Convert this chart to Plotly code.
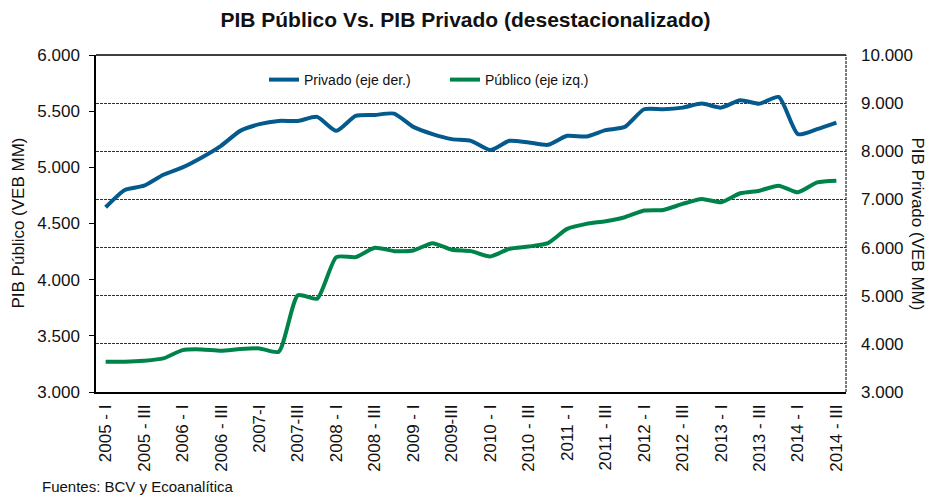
import plotly.graph_objects as go

tick_labels = ["2005 - I", "2005 - III", "2006 - I", "2006 - III", "2007-I", "2007-III",
               "2008 - I", "2008 - III", "2009 - I", "2009-III", "2010 - I", "2010 - III",
               "2011 - I", "2011 - III", "2012 - I", "2012 - III", "2013 - I", "2013 - III",
               "2014 - I", "2014 - III"]

quarters = list(range(39))

privado = [6837, 7197, 7286, 7513, 7665, 7872, 8114, 8424, 8563, 8631,
           8631, 8714, 8424, 8735, 8755, 8783, 8507, 8356, 8252, 8217,
           8025, 8217, 8183, 8134, 8321, 8307, 8439, 8507, 8873, 8873,
           8907, 8990, 8907, 9060, 8990, 9128, 8356, 8460, 8596]

publico = [3269, 3269, 3278, 3299, 3373, 3379, 3367, 3382, 3388, 3358,
           3861, 3831, 4201, 4201, 4284, 4254, 4260, 4325, 4266, 4254,
           4207, 4275, 4295, 4325, 4452, 4497, 4520, 4556, 4615, 4621,
           4674, 4719, 4689, 4769, 4792, 4837, 4778, 4866, 4881]

left_ticks = [3000, 3500, 4000, 4500, 5000, 5500, 6000]
right_ticks = [3000, 4000, 5000, 6000, 7000, 8000, 9000, 10000]

BLUE = "#045a8d"
GREEN = "#00834a"
FONT = "Liberation Sans, Arial, sans-serif"

W, H = 931, 495
ML, MR, MT, MB = 96, 85, 55, 103
pw = W - ML - MR
ph = H - MT - MB

fig = go.Figure()
fig.add_trace(go.Scatter(x=quarters, y=privado, name="Privado (eje der.)", yaxis="y2",
                         mode="lines", line=dict(color=BLUE, width=4, shape="spline", smoothing=0.6)))
fig.add_trace(go.Scatter(x=quarters, y=publico, name="Público (eje izq.)", yaxis="y",
                         mode="lines", line=dict(color=GREEN, width=4, shape="spline", smoothing=0.6)))

fig.update_layout(
    width=W, height=H,
    margin=dict(l=ML, r=MR, t=MT, b=MB, autoexpand=False),
    paper_bgcolor="white", plot_bgcolor="white",
    separators=",.",
    font=dict(family=FONT, size=17, color="#111"),
    title=dict(text="<b>PIB Público Vs. PIB Privado (desestacionalizado)</b>",
               x=0.5, xanchor="center", y=(H - 20) / H, yanchor="middle", yref="container",
               font=dict(size=21, family=FONT, color="#111")),
    showlegend=True,
    legend=dict(orientation="h", x=(264 - ML) / pw, y=(392 - 80) / ph, xanchor="left", yanchor="middle",
                bgcolor="rgba(0,0,0,0)", font=dict(size=14, family=FONT),
                itemwidth=30, entrywidthmode="pixels", entrywidth=136),
    xaxis=dict(range=[-0.5, 38.5], tickmode="array",
               tickvals=quarters[::2], ticktext=tick_labels, tickangle=-90,
               tickfont=dict(size=17), showgrid=False, zeroline=False,
               showline=True, linecolor="black", linewidth=1.5, ticks="",
               ticklabelstandoff=4),
    yaxis=dict(range=[3000, 6000], tickmode="array", tickvals=left_ticks,
               tickformat=",d", tickfont=dict(size=17), showgrid=False, zeroline=False,
               showline=True, linecolor="black", linewidth=1.5,
               ticks="outside", ticklen=5, tickcolor="black", ticklabelstandoff=6),
    yaxis2=dict(range=[3000, 10000], overlaying="y", side="right", tickmode="array",
                tickvals=right_ticks, tickformat=",d", tickfont=dict(size=17), showgrid=True,
                gridcolor="#333", gridwidth=1, griddash="3px,1px",
                zeroline=False, showline=False, ticks="", ticklabelstandoff=14),
    annotations=[
        dict(text="PIB Público (VEB MM)", x=(18 - ML) / pw, xref="paper", y=0.5, yref="paper",
             textangle=-90, showarrow=False, font=dict(size=17), xanchor="center", yanchor="middle"),
        dict(text="PIB Privado (VEB MM)", x=(917 - ML) / pw, xref="paper", y=0.5, yref="paper",
             textangle=90, showarrow=False, font=dict(size=17), xanchor="center", yanchor="middle"),
        dict(text="Fuentes: BCV y Ecoanalítica", x=(40 - ML) / pw, y=(392 - 486) / ph,
             xref="paper", yref="paper",
             showarrow=False, font=dict(size=15), xanchor="left", yanchor="middle"),
    ],
    shapes=[
        dict(type="line", xref="paper", yref="paper", x0=0, x1=1, y0=1, y1=1,
             line=dict(color="black", width=1.5)),
        dict(type="line", xref="paper", yref="paper", x0=1, x1=1, y0=0, y1=1,
             line=dict(color="#222", width=1.2, dash="3px,1px")),
    ],
)

fig.write_html("out.html", config={"displayModeBar": False},
               post_script="document.body.style.margin='0';document.body.style.padding='0';")
